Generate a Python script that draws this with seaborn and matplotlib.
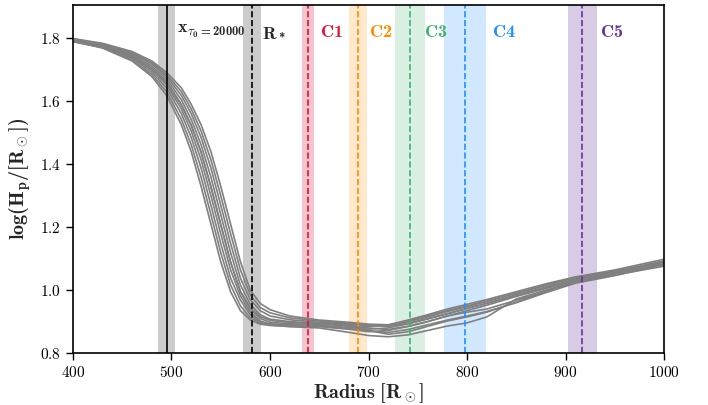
import numpy as np
import pandas as pd
import matplotlib
matplotlib.use("Agg")
import matplotlib.pyplot as plt
import seaborn as sns

# radius grid shared by all model profiles
radius = [400, 430, 460, 480, 495, 510, 520, 530, 540, 550, 560, 570, 580, 590, 600,
          620, 650, 680, 700, 720, 740, 760, 780, 800, 820, 850, 880, 910, 950, 1000]

hp_1 = [1.789, 1.768, 1.727, 1.678, 1.618, 1.525, 1.440, 1.330, 1.210, 1.090, 0.995, 0.935, 0.905, 0.892, 0.888,
        0.885, 0.884, 0.876, 0.868, 0.872, 0.885, 0.900, 0.918, 0.935, 0.952, 0.980, 1.005, 1.030, 1.052, 1.080]
hp_2 = [1.790, 1.770, 1.731, 1.684, 1.630, 1.542, 1.462, 1.359, 1.240, 1.119, 1.016, 0.950, 0.912, 0.896, 0.891,
        0.889, 0.888, 0.882, 0.876, 0.880, 0.893, 0.908, 0.925, 0.942, 0.958, 0.985, 1.010, 1.035, 1.056, 1.088]
hp_3 = [1.792, 1.772, 1.736, 1.691, 1.642, 1.560, 1.485, 1.388, 1.270, 1.148, 1.038, 0.968, 0.922, 0.898, 0.889,
        0.884, 0.880, 0.866, 0.856, 0.852, 0.858, 0.872, 0.886, 0.896, 0.915, 0.972, 1.000, 1.026, 1.048, 1.076]
hp_4 = [1.793, 1.774, 1.740, 1.698, 1.652, 1.575, 1.505, 1.414, 1.300, 1.179, 1.064, 0.982, 0.930, 0.902, 0.893,
        0.890, 0.887, 0.878, 0.870, 0.866, 0.875, 0.890, 0.905, 0.918, 0.932, 0.960, 0.992, 1.022, 1.046, 1.082]
hp_5 = [1.795, 1.776, 1.744, 1.705, 1.662, 1.590, 1.525, 1.440, 1.330, 1.210, 1.090, 0.995, 0.940, 0.910, 0.898,
        0.893, 0.892, 0.888, 0.885, 0.888, 0.900, 0.915, 0.932, 0.948, 0.964, 0.990, 1.015, 1.040, 1.060, 1.092]
hp_6 = [1.788, 1.770, 1.739, 1.700, 1.658, 1.587, 1.522, 1.437, 1.327, 1.207, 1.088, 0.996, 0.944, 0.916, 0.904,
        0.897, 0.894, 0.886, 0.880, 0.875, 0.885, 0.900, 0.918, 0.930, 0.940, 0.968, 0.996, 1.025, 1.050, 1.086]
hp_7 = [1.796, 1.778, 1.747, 1.711, 1.670, 1.604, 1.542, 1.462, 1.359, 1.240, 1.119, 1.016, 0.955, 0.922, 0.908,
        0.900, 0.895, 0.888, 0.872, 0.860, 0.868, 0.885, 0.902, 0.915, 0.930, 0.962, 0.995, 1.025, 1.048, 1.086]
hp_8 = [1.797, 1.780, 1.751, 1.717, 1.678, 1.618, 1.560, 1.485, 1.388, 1.270, 1.148, 1.038, 0.970, 0.935, 0.918,
        0.906, 0.898, 0.892, 0.888, 0.885, 0.895, 0.910, 0.925, 0.942, 0.958, 0.982, 1.008, 1.032, 1.054, 1.085]
hp_9 = [1.797, 1.781, 1.754, 1.722, 1.684, 1.630, 1.575, 1.505, 1.414, 1.300, 1.179, 1.064, 0.985, 0.945, 0.928,
        0.912, 0.902, 0.895, 0.890, 0.888, 0.902, 0.918, 0.935, 0.950, 0.965, 0.990, 1.016, 1.040, 1.060, 1.092]
hp_10 = [1.798, 1.783, 1.757, 1.727, 1.691, 1.642, 1.590, 1.525, 1.440, 1.330, 1.210, 1.090, 1.000, 0.958, 0.938,
         0.918, 0.905, 0.898, 0.892, 0.890, 0.905, 0.922, 0.940, 0.955, 0.970, 0.995, 1.020, 1.042, 1.064, 1.098]

profiles = [hp_1, hp_2, hp_3, hp_4, hp_5, hp_6, hp_7, hp_8, hp_9, hp_10]

# reference radii: centre and half width of the shaded band
x_tau, x_tau_hw = 495, 9
r_star, r_star_hw = 582, 9
cell_names = ["C1", "C2", "C3", "C4", "C5"]
cell_r = [639, 689.5, 742, 798, 917]
cell_hw = [6, 9, 15, 21, 15]
cell_colors = ["crimson", "darkorange", "mediumseagreen", "dodgerblue", "rebeccapurple"]
cell_alpha = [0.25, 0.2, 0.2, 0.2, 0.25]
cell_label_x = [651, 700, 756, 825, 935]

df = pd.concat([pd.DataFrame({"radius": radius, "logHp": v, "model": i})
                for i, v in enumerate(profiles)], ignore_index=True)

sns.set_style("ticks")
plt.rcParams["font.family"] = ["cmr10", "DejaVu Serif"]
plt.rcParams["mathtext.fontset"] = "custom"
plt.rcParams["mathtext.rm"] = "cmr10"
plt.rcParams["mathtext.it"] = "cmmi10"
plt.rcParams["mathtext.bf"] = "cmb10"
plt.rcParams["mathtext.cal"] = "cmsy10"
plt.rcParams["mathtext.fallback"] = "cm"
plt.rcParams["axes.formatter.use_mathtext"] = True

fig = plt.figure(figsize=(7.08, 4.05), dpi=100)
ax = fig.add_axes([0.103, 0.128, 0.835, 0.860])

sns.lineplot(data=df, x="radius", y="logHp", units="model", estimator=None,
             color="gray", lw=1.2, ax=ax, legend=False)

ax.axvspan(x_tau - x_tau_hw, x_tau + x_tau_hw, color="gray", alpha=0.4, lw=0)
ax.axvline(x_tau, color="black", lw=1.2)
ax.axvspan(r_star - r_star_hw, r_star + r_star_hw, color="gray", alpha=0.4, lw=0)
ax.axvline(r_star, color="black", lw=1.2, ls="--")

for name, r, hw, c, a, lx in zip(cell_names, cell_r, cell_hw, cell_colors, cell_alpha, cell_label_x):
    ax.axvspan(r - hw, r + hw, color=c, alpha=a, lw=0)
    ax.axvline(r, color=c, lw=1.2, ls="--")
    ax.text(lx, 1.82, r"$\mathbf{%s}$" % name, color=c, fontsize=13, va="center")

ax.text(506, 1.82, r"$\mathbf{x_{\tau_0=20000}}$", fontsize=13, va="center")
ax.text(592, 1.82, r"$\mathbf{R_*}$", fontsize=13, va="center")

ax.set_xlim(400, 1000)
ax.set_ylim(0.8, 1.905)
ax.set_yticks([0.8, 1.0, 1.2, 1.4, 1.6, 1.8])
ax.set_xticks([400, 500, 600, 700, 800, 900, 1000])
ax.tick_params(labelsize=11, length=5, width=1, direction="out", colors="black")
ax.set_xlabel(r"$\mathbf{Radius\ [R_\odot]}$", fontsize=14.5)
ax.set_ylabel(r"$\mathbf{log(H_p/[R_\odot])}$", fontsize=14.5)
ax.xaxis.set_label_coords(0.5, -0.08)
ax.yaxis.set_label_coords(-0.068, 0.5)
for s in ax.spines.values():
    s.set_linewidth(1.2)
    s.set_color("black")

fig.savefig("out.png", dpi=100)
